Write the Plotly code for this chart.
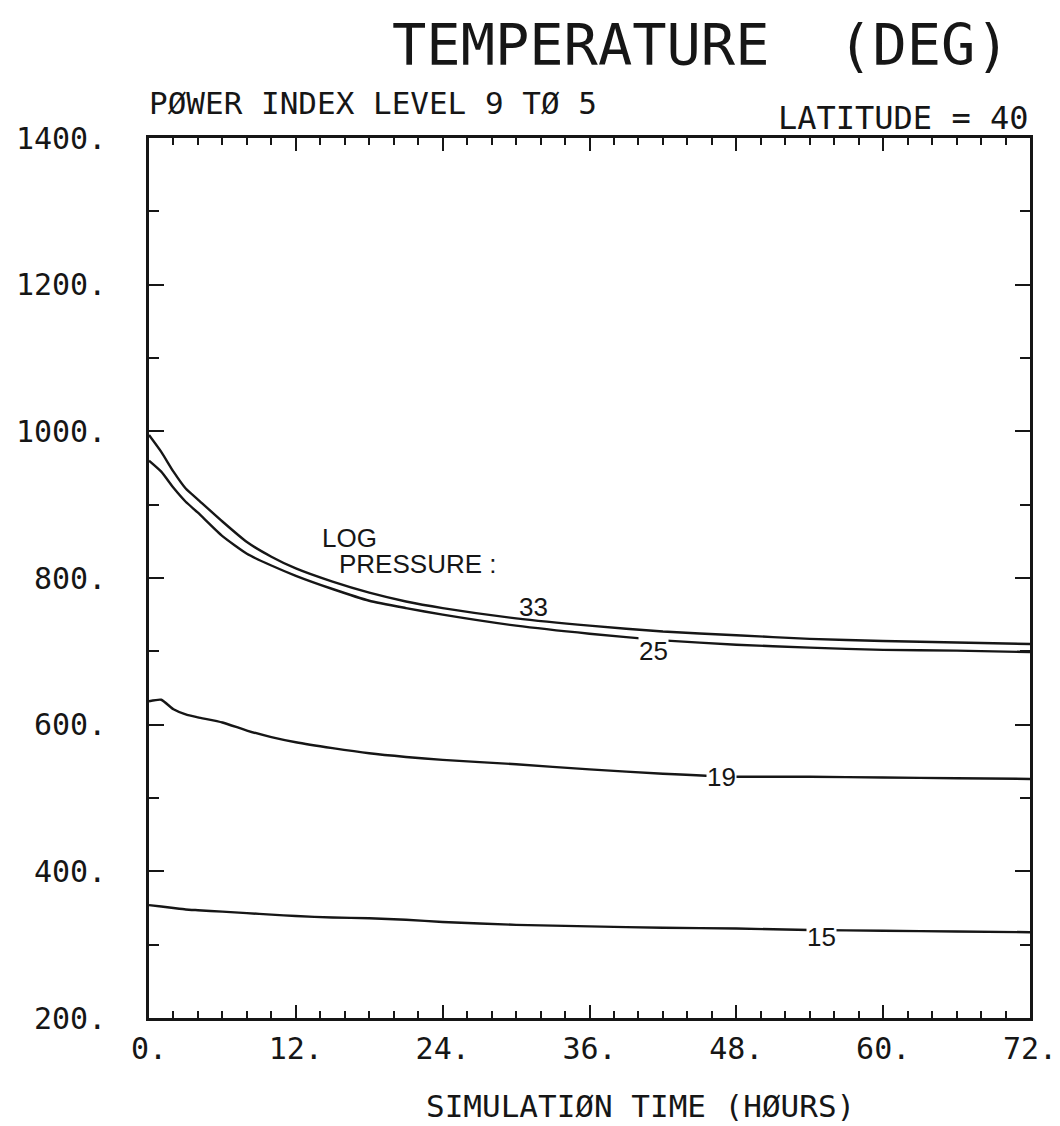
import plotly.graph_objects as go

# Simulation time grid (hours)
hours = [0, 1, 2, 3, 4, 6, 8, 10, 12, 15, 18, 21, 24, 30, 36, 42, 48, 54, 60, 66, 72]

# Temperature (deg) at each log-pressure level
temp_lp33 = [995, 972, 945, 922, 907, 877, 849, 829, 813, 795, 780, 768, 759, 745, 735, 727, 722, 717, 714, 712, 710]
temp_lp25 = [960, 945, 923, 904, 889, 857, 833, 817, 803, 785, 769, 759, 750, 735, 724, 715, 709, 705, 702, 701, 699]
temp_lp19 = [632, 634, 621, 614, 610, 603, 592, 583, 576, 568, 561, 556, 552, 546, 539, 533, 529, 529, 528, 527, 526]
temp_lp15 = [354, 352, 350, 348, 347, 345, 343, 341, 339, 337, 336, 334, 331, 327, 325, 323, 322, 320, 319, 318, 317]

levels = ["33", "25", "19", "15"]
series = [temp_lp33, temp_lp25, temp_lp19, temp_lp15]

# Where each level number is written along its curve (hour, deg)
label_hour = [31.4, 41.2, 46.8, 55.0]
label_temp = [760, 701, 529, 310]
label_masks = [False, True, True, True]

x_ticks = [0, 12, 24, 36, 48, 60, 72]
x_ticktext = ["0.", "12.", "24.", "36.", "48.", "60.", "72."]
y_ticks = [200, 400, 600, 800, 1000, 1200, 1400]
y_ticktext = ["200.", "400.", "600.", "800.", "1000.", "1200.", "1400."]

INK = "#161616"
MONO = "DejaVu Sans Mono"
SANS = "Liberation Sans"

fig = go.Figure()
for i, (name, temps) in enumerate(zip(levels, series)):
    fig.add_trace(go.Scatter(
        x=hours, y=temps, mode="lines", name=name,
        # the first curve is tied to the top time axis so that axis is drawn
        xaxis="x2" if i == 0 else "x",
        line=dict(color=INK, width=2.4, shape="spline", smoothing=0.5),
        showlegend=False, hoverinfo="skip",
    ))

for name, hx, ty, mask in zip(levels, label_hour, label_temp, label_masks):
    fig.add_annotation(
        x=hx, y=ty, xref="x", yref="y", text=name, showarrow=False,
        font=dict(family=SANS, size=26, color=INK),
        bgcolor="white" if mask else "rgba(0,0,0,0)", borderpad=0,
    )

# "LOG PRESSURE :" key text
fig.add_annotation(x=0.194, y=0.5455, xref="paper", yref="paper", text="LOG",
                   showarrow=False, xanchor="left", yanchor="middle",
                   font=dict(family=SANS, size=26, color=INK))
fig.add_annotation(x=0.2134, y=0.516, xref="paper", yref="paper", text="PRESSURE :",
                   showarrow=False, xanchor="left", yanchor="middle",
                   font=dict(family=SANS, size=26, color=INK))

# Header texts
fig.add_annotation(x=0.626, y=1.1057, xref="paper", yref="paper",
                   text="TEMPERATURE  (DEG)", showarrow=False,
                   xanchor="center", yanchor="middle",
                   font=dict(family=MONO, size=57, color=INK))
fig.add_annotation(x=-0.002, y=1.0398, xref="paper", yref="paper",
                   text="PØWER INDEX LEVEL 9 TØ 5", showarrow=False,
                   xanchor="left", yanchor="middle",
                   font=dict(family=MONO, size=31, color=INK))
fig.add_annotation(x=1.0, y=1.0227, xref="paper", yref="paper",
                   text="LATITUDE = 40", showarrow=False,
                   xanchor="right", yanchor="middle",
                   font=dict(family=MONO, size=32, color=INK))
fig.add_annotation(x=0.558, y=-0.0995, xref="paper", yref="paper",
                   text="SIMULATIØN TIME (HØURS)", showarrow=False,
                   xanchor="center", yanchor="middle",
                   font=dict(family=MONO, size=31, color=INK))

axis_common = dict(
    showgrid=False, zeroline=False, showline=True, linecolor=INK, linewidth=2.5,
    mirror="ticks", ticks="inside", tickcolor=INK, tickwidth=2, automargin=False,
    tickmode="array", tickfont=dict(family=MONO, size=30, color=INK),
)
x_minor = dict(tickmode="linear", tick0=0, dtick=2, ticks="inside",
               ticklen=7, tickwidth=2, tickcolor=INK)

fig.update_layout(
    xaxis=dict(**axis_common, range=[0, 72], tickvals=x_ticks, ticktext=x_ticktext,
               ticklen=13, ticklabelstandoff=2, minor=x_minor),
    xaxis2=dict(overlaying="x", side="top", anchor="y", range=[0, 72],
                showgrid=False, zeroline=False, showline=False,
                ticks="inside", tickcolor=INK, tickwidth=2, ticklen=13,
                tickmode="array", tickvals=x_ticks, showticklabels=False,
                automargin=False, minor=x_minor),
    yaxis=dict(**axis_common, range=[200, 1400], tickvals=y_ticks, ticktext=y_ticktext,
               ticklen=15, ticklabelstandoff=34,
               minor=dict(tickmode="linear", tick0=200, dtick=100, ticks="inside",
                          ticklen=10, tickwidth=2, tickcolor=INK)),
    width=1060, height=1126,
    margin=dict(l=149, r=30, t=138, b=108),
    paper_bgcolor="white", plot_bgcolor="white",
)

fig.write_html("out.html")
